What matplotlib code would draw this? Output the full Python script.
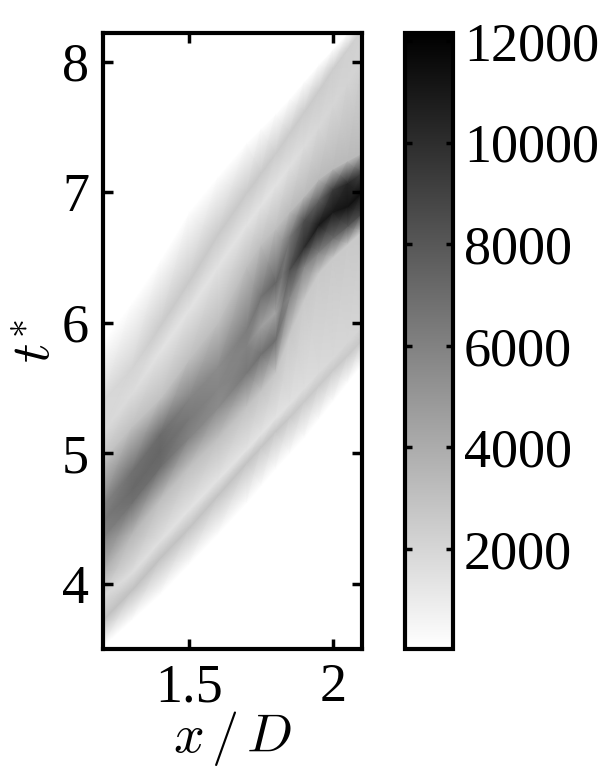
import numpy as np
import matplotlib
matplotlib.use('Agg')
import matplotlib.pyplot as plt

plt.rcParams['font.family'] = ['Liberation Serif', 'DejaVu Serif']
plt.rcParams['mathtext.fontset'] = 'cm'

x_stations = [1.2, 1.3, 1.4, 1.5, 1.6, 1.7, 1.75, 1.8, 1.85, 1.9, 1.95, 2.0, 2.05, 2.1]

# one row per station: t of each feature across the bands, from below to above
t_profiles = [
    [3.00, 3.52, 3.72, 3.90, 4.10, 4.35, 4.48, 4.60, 4.95, 5.15, 5.40, 5.85, 9.00],
    [3.00, 3.72, 3.95, 4.08, 4.38, 4.62, 4.72, 4.86, 5.20, 5.45, 5.65, 6.15, 9.00],
    [3.00, 3.92, 4.20, 4.33, 4.65, 4.90, 5.02, 5.15, 5.42, 5.78, 5.98, 6.48, 9.00],
    [3.00, 4.15, 4.43, 4.57, 4.90, 5.12, 5.27, 5.42, 5.72, 6.10, 6.32, 6.85, 9.00],
    [3.00, 4.38, 4.68, 4.80, 5.12, 5.35, 5.50, 5.66, 6.00, 6.43, 6.68, 7.12, 9.00],
    [3.00, 4.62, 4.93, 5.03, 5.36, 5.62, 5.82, 5.95, 6.43, 6.75, 7.00, 7.38, 9.00],
    [3.00, 4.75, 5.05, 5.15, 5.48, 5.76, 5.97, 6.20, 6.60, 6.90, 7.15, 7.49, 9.00],
    [3.00, 4.88, 5.17, 5.27, 5.62, 5.87, 6.08, 6.31, 6.72, 7.05, 7.30, 7.60, 9.00],
    [3.00, 5.00, 5.28, 5.38, 5.92, 6.20, 6.41, 6.66, 6.85, 7.20, 7.46, 7.72, 9.00],
    [3.00, 5.12, 5.40, 5.50, 6.18, 6.43, 6.58, 6.79, 6.97, 7.35, 7.62, 7.85, 9.00],
    [3.00, 5.26, 5.52, 5.62, 6.38, 6.54, 6.75, 6.94, 7.10, 7.50, 7.78, 7.98, 9.00],
    [3.00, 5.40, 5.64, 5.73, 6.50, 6.65, 6.85, 7.02, 7.18, 7.67, 7.95, 8.10, 9.00],
    [3.00, 5.54, 5.75, 5.85, 6.60, 6.74, 6.89, 7.07, 7.24, 7.84, 8.10, 8.22, 9.00],
    [3.00, 5.68, 5.87, 5.97, 6.70, 6.84, 7.00, 7.15, 7.30, 8.00, 8.25, 8.35, 9.00],
]

# field value at those same features
value_profiles = [
    [0, 40, 3000, 1900, 3800, 5900, 6300, 5900, 2900, 1900, 1900, 0, 0],
    [0, 40, 3000, 1600, 3500, 6800, 7100, 6800, 3000, 1700, 2100, 0, 0],
    [0, 40, 3000, 1500, 3200, 7000, 7300, 7000, 3000, 1400, 2500, 0, 0],
    [0, 40, 2900, 1400, 3100, 5900, 6400, 5900, 3100, 1400, 2600, 0, 0],
    [0, 40, 2900, 1400, 3100, 5500, 5800, 5500, 3100, 1400, 2600, 0, 0],
    [0, 40, 2900, 1400, 3000, 6450, 5975, 6210, 3100, 1400, 2600, 0, 0],
    [0, 40, 2800, 1400, 2900, 6800, 4540, 6690, 3100, 1400, 2600, 0, 0],
    [0, 40, 2800, 1400, 2800, 6930, 4300, 7410, 3100, 1400, 2500, 0, 0],
    [0, 40, 2700, 1500, 2700, 5800, 8360, 6450, 3300, 1500, 2500, 0, 0],
    [0, 40, 2600, 1600, 2600, 5800, 10000, 8360, 3300, 1700, 2500, 0, 0],
    [0, 40, 2600, 1800, 2600, 6000, 11000, 7410, 3300, 1900, 2500, 0, 0],
    [0, 40, 2600, 1900, 2600, 7000, 11000, 9320, 3300, 2000, 2400, 0, 0],
    [0, 40, 2600, 2000, 2600, 8000, 11230, 10280, 3300, 2100, 2300, 0, 0],
    [0, 40, 2600, 2100, 2600, 9000, 11470, 8840, 3300, 2200, 2200, 0, 0],
]

x_ticks = [1.5, 2]
x_ticklabels = ['1.5', '2']
t_ticks = [4, 5, 6, 7, 8]
cbar_ticks = [2000, 4000, 6000, 8000, 10000, 12000]


def main():
    w, h = 612, 775
    fig = plt.figure(figsize=(w / 100, h / 100), dpi=100)
    ax = fig.add_axes([103 / w, 1 - 649 / h, 259 / w, 616 / h])
    cax = fig.add_axes([405 / w, 1 - 649 / h, 48 / w, 616 / h])

    T = np.array(t_profiles)
    X = np.repeat(np.array(x_stations)[:, None], T.shape[1], axis=1)
    V = np.array(value_profiles, dtype=float)

    mesh = ax.pcolormesh(X, T, V, shading='gouraud', cmap='gray_r', vmin=30, vmax=12160)
    ax.set_xlim(1.2, 2.1)
    ax.set_ylim(3.5, 8.22)
    ax.set_xticks(x_ticks)
    ax.set_xticklabels(x_ticklabels)
    ax.set_yticks(t_ticks)
    ax.tick_params(direction='in', top=True, right=True, length=7, width=2.5,
                   labelsize=39, pad=10)
    for s in ax.spines.values():
        s.set_linewidth(3)
    ax.set_xlabel(r'$x\,/\,D$', fontsize=39, labelpad=-3)
    ax.set_ylabel(r'$t^{*}$', fontsize=39, labelpad=0)

    cb = fig.colorbar(mesh, cax=cax)
    cb.set_ticks(cbar_ticks)
    cb.outline.set_linewidth(3)
    cax.tick_params(direction='in', left=True, right=True, length=5, width=2.5,
                    labelsize=39, pad=8)

    fig.savefig('out.png', dpi=100)


if __name__ == "__main__":
    main()
